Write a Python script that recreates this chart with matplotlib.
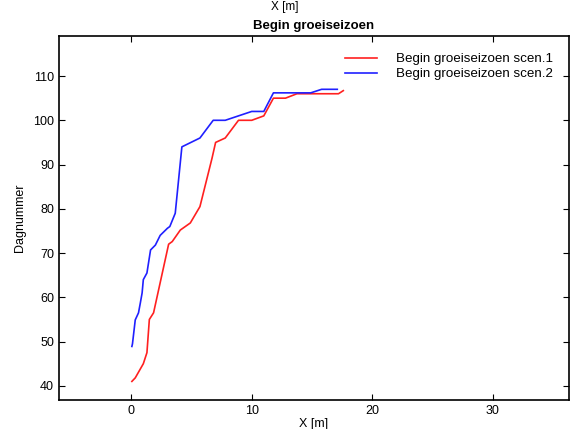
import matplotlib
matplotlib.use("Agg")
import matplotlib.pyplot as plt

plt.rcParams['font.family'] = ['Liberation Sans', 'DejaVu Sans']

# scenario 1 (red)
x1 = [0.05, 0.33, 1.0, 1.3, 1.5, 1.85, 3.1, 3.4, 4.07, 4.9, 5.7, 6.7, 7.0, 7.8,
      8.9, 10.0, 11.0, 11.8, 12.8, 13.75, 14.9, 17.2, 17.6]
y1 = [41, 41.8, 45, 47.5, 55, 56.5, 72, 72.6, 75.2, 76.8, 80.5, 91.4, 95, 96,
      100, 100, 101, 105, 105, 106, 106, 106, 106.7]

# scenario 2 (blue)
x2 = [0.05, 0.1, 0.33, 0.6, 0.75, 0.9, 1.0, 1.3, 1.6, 2.0, 2.4, 3.0, 3.2, 3.65,
      4.2, 5.7, 6.8, 7.8, 8.9, 10.0, 11.0, 11.8, 13.75, 14.9, 15.8, 17.1]
y2 = [48.9, 49.5, 54.9, 56.5, 58.7, 61, 64, 65.5, 70.7, 71.8, 74, 75.6, 76, 79,
      94, 96, 100, 100, 101, 102, 102, 106.2, 106.2, 106.2, 107, 107]

fig = plt.figure(figsize=(5.7, 4.29), dpi=100)
ax = fig.add_axes([0.1035, 0.0676, 0.894, 0.848])

ax.plot(x1, y1, color='#ff2020', linewidth=1.2, label='Begin groeiseizoen scen.1')
ax.plot(x2, y2, color='#2020ff', linewidth=1.2, label='Begin groeiseizoen scen.2')

ax.set_xlim(-6, 36.3)
ax.set_ylim(36.8, 119)
ax.set_xticks([0, 10, 20, 30])
ax.set_yticks([40, 50, 60, 70, 80, 90, 100, 110])
ax.tick_params(direction='in', top=True, right=True, labelsize=9, length=4)
for s in ax.spines.values():
    s.set_linewidth(1.2)

ax.set_xlabel('X [m]', fontsize=9, labelpad=1)
ax.set_ylabel('Dagnummer', fontsize=9, labelpad=5)
ax.set_title('Begin groeiseizoen', fontsize=9.5, fontweight='bold', pad=5)
fig.text(0.5, 0.998, 'X [m]', ha='center', va='top', fontsize=8.5)

ax.legend(loc='upper right', frameon=False, fontsize=9.6, handlelength=2.4,
          handletextpad=1.4, borderaxespad=0.4, labelspacing=0.2,
          bbox_to_anchor=(0.99, 0.983))

fig.savefig('out.png', dpi=100)
